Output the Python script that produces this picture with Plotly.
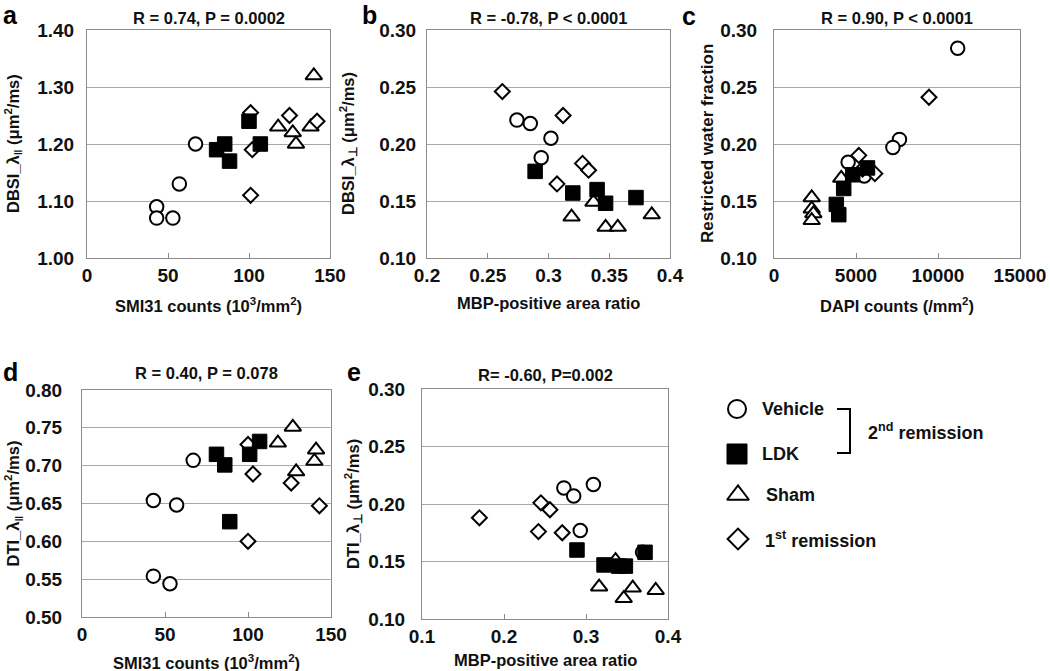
import plotly.graph_objects as go

W, H = 1050, 671

# ---------------- data ----------------
# Panel a: DBSI axial diffusivity vs SMI31 counts
a_vehicle_x = [43, 43, 53, 57, 67]
a_vehicle_y = [1.09, 1.07, 1.07, 1.13, 1.20]
a_ldk_x = [80, 85, 88, 100, 107]
a_ldk_y = [1.19, 1.20, 1.17, 1.24, 1.20]
a_sham_x = [118, 127, 129, 140, 138]
a_sham_y = [1.23, 1.22, 1.20, 1.32, 1.23]
a_first_x = [101, 102, 101, 125, 142]
a_first_y = [1.255, 1.19, 1.11, 1.25, 1.24]

# Panel b: DBSI radial diffusivity vs MBP-positive area ratio
b_vehicle_x = [0.274, 0.285, 0.302, 0.294]
b_vehicle_y = [0.221, 0.218, 0.205, 0.188]
b_ldk_x = [0.289, 0.320, 0.340, 0.347, 0.372]
b_ldk_y = [0.176, 0.157, 0.160, 0.148, 0.153]
b_sham_x = [0.319, 0.337, 0.347, 0.357, 0.385]
b_sham_y = [0.136, 0.149, 0.127, 0.127, 0.138]
b_first_x = [0.262, 0.312, 0.328, 0.333, 0.307]
b_first_y = [0.246, 0.225, 0.183, 0.177, 0.165]

# Panel c: restricted water fraction vs DAPI counts
c_vehicle_x = [11200, 7650, 7250, 4520, 5500]
c_vehicle_y = [0.284, 0.204, 0.197, 0.184, 0.172]
c_ldk_x = [3800, 3950, 4250, 4800, 5700]
c_ldk_y = [0.147, 0.138, 0.161, 0.173, 0.179]
c_sham_x = [2300, 2300, 2400, 2300, 4100]
c_sham_y = [0.153, 0.143, 0.139, 0.133, 0.170]
c_first_x = [9450, 5170, 6150, 5400]
c_first_y = [0.241, 0.190, 0.174, 0.178]

# Panel d: DTI axial diffusivity vs SMI31 counts
d_vehicle_x = [43, 57, 67, 43, 53]
d_vehicle_y = [0.654, 0.648, 0.707, 0.554, 0.544]
d_ldk_x = [81, 86, 89, 101, 107]
d_ldk_y = [0.715, 0.701, 0.626, 0.715, 0.732]
d_sham_x = [127, 118, 141, 140, 129]
d_sham_y = [0.751, 0.730, 0.721, 0.706, 0.692]
d_first_x = [100, 103, 100, 126, 143]
d_first_y = [0.728, 0.689, 0.600, 0.677, 0.647]

# Panel e: DTI radial diffusivity vs MBP-positive area ratio
e_vehicle_x = [0.273, 0.285, 0.309, 0.293, 0.369]
e_vehicle_y = [0.214, 0.207, 0.217, 0.177, 0.158]
e_ldk_x = [0.289, 0.322, 0.340, 0.348, 0.372]
e_ldk_y = [0.160, 0.147, 0.146, 0.146, 0.158]
e_sham_x = [0.316, 0.346, 0.357, 0.385, 0.336]
e_sham_y = [0.128, 0.118, 0.127, 0.125, 0.151]
e_first_x = [0.170, 0.245, 0.256, 0.242, 0.271]
e_first_y = [0.188, 0.201, 0.195, 0.176, 0.175]

panel_titles = ["R = 0.74, P = 0.0002", "R = -0.78, P < 0.0001", "R = 0.90, P < 0.0001",
                "R = 0.40, P = 0.078", "R= -0.60, P=0.002"]
panel_letters = ["a", "b", "c", "d", "e"]
x_titles = ["SMI31 counts (10<sup>3</sup>/mm<sup>2</sup>)", "MBP-positive area ratio",
            "DAPI counts (/mm<sup>2</sup>)", "SMI31 counts (10<sup>3</sup>/mm<sup>2</sup>)",
            "MBP-positive area ratio"]
y_titles = ["DBSI_λ<sub>‖</sub> (μm<sup>2</sup>/ms)", "DBSI_λ<sub>⊥</sub> (μm<sup>2</sup>/ms)",
            "Restricted water fraction", "DTI_λ<sub>‖</sub> (μm<sup>2</sup>/ms)",
            "DTI_λ<sub>⊥</sub> (μm<sup>2</sup>/ms)"]

x_tickvals = [[0, 50, 100, 150], [0.2, 0.25, 0.3, 0.35, 0.4], [0, 5000, 10000, 15000],
              [0, 50, 100, 150], [0.1, 0.2, 0.3, 0.4]]
x_ticktext = [["0", "50", "100", "150"], ["0.2", "0.25", "0.3", "0.35", "0.4"],
              ["0", "5000", "10000", "15000"], ["0", "50", "100", "150"],
              ["0.1", "0.2", "0.3", "0.4"]]
y_tickvals = [[1.0, 1.1, 1.2, 1.3, 1.4], [0.10, 0.15, 0.20, 0.25, 0.30],
              [0.10, 0.15, 0.20, 0.25, 0.30], [0.50, 0.55, 0.60, 0.65, 0.70, 0.75, 0.80],
              [0.10, 0.15, 0.20, 0.25, 0.30]]
y_ticktext = [["1.00", "1.10", "1.20", "1.30", "1.40"],
              ["0.10", "0.15", "0.20", "0.25", "0.30"],
              ["0.10", "0.15", "0.20", "0.25", "0.30"],
              ["0.50", "0.55", "0.60", "0.65", "0.70", "0.75", "0.80"],
              ["0.10", "0.15", "0.20", "0.25", "0.30"]]
x_ranges = [[0, 150], [0.2, 0.4], [0, 15000], [0, 150], [0.1, 0.4]]
y_ranges = [[1.0, 1.4], [0.1, 0.3], [0.1, 0.3], [0.5, 0.8], [0.1, 0.3]]

legend_labels = ["Vehicle", "LDK", "Sham", "1<sup>st</sup> remission"]
bracket_label = "2<sup>nd</sup> remission"

# ---------------- layout geometry (pixels) ----------------
# plot boxes: left, right, top, bottom
boxes = [(87, 330, 30, 258), (427, 670, 30, 258), (774, 1020, 30, 258),
         (82, 331, 390, 617), (422, 668, 389, 619)]
ylabel_standoff = [8, 6, 12, 15, 12]
ytitle_x = [13, 348, 707, 13, 353]
ytitle_size = [16.5, 16.5, 17, 16.5, 16.5]
xtitle_y = [305, 303, 305, 662, 660]
title_y = [18, 18, 18, 373, 375]
letter_pos = [(2, 0), (361, 0), (681, 1), (2, 357), (346, 357)]

FONT = "Liberation Sans, Arial, sans-serif"

def px(x):
    return x / W

def py(y):
    return 1 - y / H

styles = {
    "Vehicle": dict(symbol="circle", size=13.5, color="white", line=dict(color="black", width=2)),
    "Sham": dict(symbol="triangle-up", size=14.5, color="white", line=dict(color="black", width=2)),
    "First": dict(symbol="diamond", size=11.5, color="white", line=dict(color="black", width=2)),
    "LDK": dict(symbol="square", size=14.5, color="black", line=dict(color="black", width=1)),
}

data = [
    [(a_vehicle_x, a_vehicle_y, "Vehicle"), (a_sham_x, a_sham_y, "Sham"), (a_first_x, a_first_y, "First"), (a_ldk_x, a_ldk_y, "LDK")],
    [(b_vehicle_x, b_vehicle_y, "Vehicle"), (b_sham_x, b_sham_y, "Sham"), (b_first_x, b_first_y, "First"), (b_ldk_x, b_ldk_y, "LDK")],
    [(c_vehicle_x, c_vehicle_y, "Vehicle"), (c_sham_x, c_sham_y, "Sham"), (c_first_x, c_first_y, "First"), (c_ldk_x, c_ldk_y, "LDK")],
    [(d_vehicle_x, d_vehicle_y, "Vehicle"), (d_sham_x, d_sham_y, "Sham"), (d_first_x, d_first_y, "First"), (d_ldk_x, d_ldk_y, "LDK")],
    [(e_vehicle_x, e_vehicle_y, "Vehicle"), (e_sham_x, e_sham_y, "Sham"), (e_first_x, e_first_y, "First"), (e_ldk_x, e_ldk_y, "LDK")],
]

fig = go.Figure()
layout = dict(width=W, height=H, margin=dict(l=0, r=0, t=0, b=0, autoexpand=False),
              paper_bgcolor="white", plot_bgcolor="rgba(0,0,0,0)", showlegend=False,
              font=dict(family=FONT, color="black"))
annotations = []

for i in range(5):
    n = i + 1
    xa = "x" if n == 1 else f"x{n}"
    ya = "y" if n == 1 else f"y{n}"
    for xs, ys, g in data[i]:
        fig.add_trace(go.Scatter(x=xs, y=ys, mode="markers", marker=styles[g],
                                 xaxis=xa, yaxis=ya, hoverinfo="skip"))
    l, r, t, b = boxes[i]
    tickfont = dict(family=FONT, size=19, color="#111", weight="bold")
    layout["xaxis" if n == 1 else f"xaxis{n}"] = dict(
        domain=[px(l), px(r)], anchor=ya, range=x_ranges[i], showgrid=False, zeroline=False,
        showline=True, linecolor="#8c8c8c", linewidth=1, mirror=True,
        ticks="inside", ticklen=5, tickcolor="#8c8c8c", automargin=False,
        tickvals=x_tickvals[i], ticktext=x_ticktext[i], tickfont=tickfont,
        ticklabelstandoff=0, fixedrange=True)
    layout["yaxis" if n == 1 else f"yaxis{n}"] = dict(
        domain=[py(b), py(t)], anchor=xa, range=y_ranges[i], showgrid=True,
        gridcolor="#a8a8a8", gridwidth=1, zeroline=False, automargin=False,
        showline=True, linecolor="#8c8c8c", linewidth=1, mirror=True, ticks="",
        tickvals=y_tickvals[i], ticktext=y_ticktext[i], tickfont=tickfont,
        ticklabelstandoff=ylabel_standoff[i], fixedrange=True)
    cx = (l + r) / 2
    cy = (t + b) / 2
    annotations.append(dict(text=f"<b>{panel_titles[i]}</b>", x=px(cx), y=py(title_y[i]),
                            xref="paper", yref="paper", showarrow=False,
                            xanchor="center", yanchor="middle",
                            font=dict(family=FONT, size=16.5, color="#111")))
    annotations.append(dict(text=f"<b>{x_titles[i]}</b>", x=px(cx), y=py(xtitle_y[i]),
                            xref="paper", yref="paper", showarrow=False,
                            xanchor="center", yanchor="middle",
                            font=dict(family=FONT, size=16.5, color="#111")))
    annotations.append(dict(text=f"<b>{y_titles[i]}</b>", x=px(ytitle_x[i]), y=py(cy),
                            xref="paper", yref="paper", showarrow=False, textangle=-90,
                            xanchor="center", yanchor="middle",
                            font=dict(family=FONT, size=ytitle_size[i], color="#111")))
    lx, ly = letter_pos[i]
    annotations.append(dict(text=f"<b>{panel_letters[i]}</b>", x=px(lx), y=py(ly),
                            xref="paper", yref="paper", showarrow=False, borderpad=0,
                            xanchor="left", yanchor="top",
                            font=dict(family=FONT, size=25, color="black")))

# ---------------- legend (hidden pixel-space axis over the legend area) ----------------
legend_marker_x = [737, 737, 738, 738]
legend_marker_y = [409, 454, 495, 539]
legend_groups = ["Vehicle", "LDK", "Sham", "First"]
legend_sizes = {"Vehicle": 18, "LDK": 20, "Sham": 19, "First": 16}
legend_text_x = [760, 760, 764, 763]
LEG_X0, LEG_X1, LEG_Y0, LEG_Y1 = 690, 1050, 380, 580

for g, xx, yy in zip(legend_groups, legend_marker_x, legend_marker_y):
    st = dict(styles[g])
    st["size"] = legend_sizes[g]
    fig.add_trace(go.Scatter(x=[xx], y=[yy], mode="markers", marker=st,
                             xaxis="x6", yaxis="y6", hoverinfo="skip"))
layout["xaxis6"] = dict(domain=[px(LEG_X0), px(LEG_X1)], range=[LEG_X0, LEG_X1], visible=False,
                        fixedrange=True, anchor="y6", automargin=False)
layout["yaxis6"] = dict(domain=[py(LEG_Y1), py(LEG_Y0)], range=[LEG_Y1, LEG_Y0], visible=False,
                        fixedrange=True, anchor="x6", automargin=False)

for lab, tx, ty in zip(legend_labels, legend_text_x, legend_marker_y):
    annotations.append(dict(text=f"<b>{lab}</b>", x=px(tx), y=py(ty), xref="paper", yref="paper",
                            showarrow=False, xanchor="left", yanchor="middle",
                            font=dict(family=FONT, size=18, color="#111")))
annotations.append(dict(text=f"<b>{bracket_label}</b>", x=px(866), y=py(431), xref="paper",
                        yref="paper", showarrow=False, xanchor="left", yanchor="middle",
                        font=dict(family=FONT, size=18, color="#111")))

shapes = [dict(type="path", xref="paper", yref="paper",
               path=f"M {px(837)},{py(409)} L {px(850)},{py(409)} L {px(850)},{py(453)} L {px(837)},{py(453)}",
               line=dict(color="black", width=2))]

layout["annotations"] = annotations
layout["shapes"] = shapes
fig.update_layout(**layout)
fig.write_html("out.html", config={"displayModeBar": False, "staticPlot": True},
               post_script="document.body.style.margin='0';document.body.style.overflow='hidden';")
